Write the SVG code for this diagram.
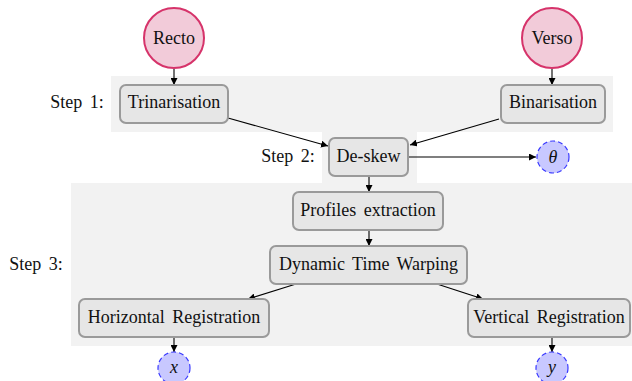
<svg xmlns="http://www.w3.org/2000/svg" width="632" height="381" viewBox="0 0 632 381">
<style>
text{fill:#111;text-anchor:middle}
.band{fill:#f2f2f2}
.box{fill:#e6e6e6;stroke:#9a9a9a;stroke-width:2}
.src{fill:#f2cbd9;stroke:#d6336a;stroke-width:2}
.out{fill:#c8c8ff;stroke:#3a3aff;stroke-width:1.2;stroke-dasharray:5 3}
.edge{stroke:#000;stroke-width:1.1;fill:none;marker-end:url(#ah)}
</style>
<defs>
<marker id="ah" viewBox="0 0 10 10" refX="10" refY="5" markerWidth="7" markerHeight="7" orient="auto" markerUnits="userSpaceOnUse">
<path d="M0,0 L10,5 L0,10 z" fill="#000"/>
</marker>
</defs>
<g id="bands">
<rect class="band" x="111" y="76" width="502" height="56"/>
<rect class="band" x="322" y="132" width="95" height="51"/>
<rect class="band" x="71" y="183" width="561" height="163"/>
</g>
<g id="step-labels">
<text x="77" y="108" font-family="'Liberation Serif', serif" font-size="18" word-spacing="3">Step 1:</text>
<text x="288" y="162" font-family="'Liberation Serif', serif" font-size="18" word-spacing="3">Step 2:</text>
<text x="36" y="270" font-family="'Liberation Serif', serif" font-size="18" word-spacing="3">Step 3:</text>
</g>
<g id="connectors">
<line class="edge" x1="174" y1="69" x2="174" y2="85"/>
<line class="edge" x1="552" y1="69" x2="552" y2="85"/>
<line class="edge" x1="228" y1="118" x2="328" y2="146"/>
<line class="edge" x1="499" y1="119" x2="410" y2="145"/>
<line class="edge" x1="408" y1="157" x2="536" y2="157"/>
<line class="edge" x1="369" y1="176" x2="369" y2="192"/>
<line class="edge" x1="369" y1="230" x2="369" y2="246"/>
<line class="edge" x1="296" y1="284" x2="248" y2="299"/>
<line class="edge" x1="437" y1="284" x2="483" y2="299"/>
<line class="edge" x1="174" y1="337" x2="174" y2="352"/>
<line class="edge" x1="552" y1="337" x2="552" y2="352"/>
</g>
<g id="recto">
<circle class="src" cx="174" cy="38" r="30"/>
<text x="174" y="44" font-family="'Liberation Serif', serif" font-size="18">Recto</text>
</g>
<g id="verso">
<circle class="src" cx="552" cy="38" r="30"/>
<text x="552" y="44" font-family="'Liberation Serif', serif" font-size="18">Verso</text>
</g>
<g id="trinarisation">
<rect class="box" x="120" y="85" width="108" height="38" rx="6"/>
<text x="174" y="108" font-family="'Liberation Serif', serif" font-size="18">Trinarisation</text>
</g>
<g id="binarisation">
<rect class="box" x="501" y="85" width="104" height="38" rx="6"/>
<text x="553" y="108" font-family="'Liberation Serif', serif" font-size="18">Binarisation</text>
</g>
<g id="deskew">
<rect class="box" x="329" y="138" width="79" height="38" rx="6"/>
<text x="368.5" y="162" font-family="'Liberation Serif', serif" font-size="18">De-skew</text>
</g>
<g id="theta">
<circle class="out" cx="553" cy="157" r="16"/>
<text x="553" y="163" font-family="'Liberation Serif', serif" font-size="18" font-style="italic">θ</text>
</g>
<g id="profiles">
<rect class="box" x="293" y="192" width="150" height="38" rx="6"/>
<text x="368" y="216" font-family="'Liberation Serif', serif" font-size="18" word-spacing="3">Profiles extraction</text>
</g>
<g id="dtw">
<rect class="box" x="270" y="246" width="197" height="38" rx="6"/>
<text x="368.5" y="270" font-family="'Liberation Serif', serif" font-size="18" word-spacing="3">Dynamic Time Warping</text>
</g>
<g id="horizontal">
<rect class="box" x="79" y="299" width="190" height="38" rx="6"/>
<text x="174" y="323" font-family="'Liberation Serif', serif" font-size="18" word-spacing="3">Horizontal Registration</text>
</g>
<g id="vertical">
<rect class="box" x="468" y="299" width="162" height="38" rx="6"/>
<text x="549" y="323" font-family="'Liberation Serif', serif" font-size="18" word-spacing="3">Vertical Registration</text>
</g>
<g id="x-out">
<circle class="out" cx="174" cy="368" r="16"/>
<text x="174" y="373" font-family="'Liberation Serif', serif" font-size="18" font-style="italic">x</text>
</g>
<g id="y-out">
<circle class="out" cx="552" cy="368" r="16"/>
<text x="552" y="373" font-family="'Liberation Serif', serif" font-size="18" font-style="italic">y</text>
</g>
</svg>
